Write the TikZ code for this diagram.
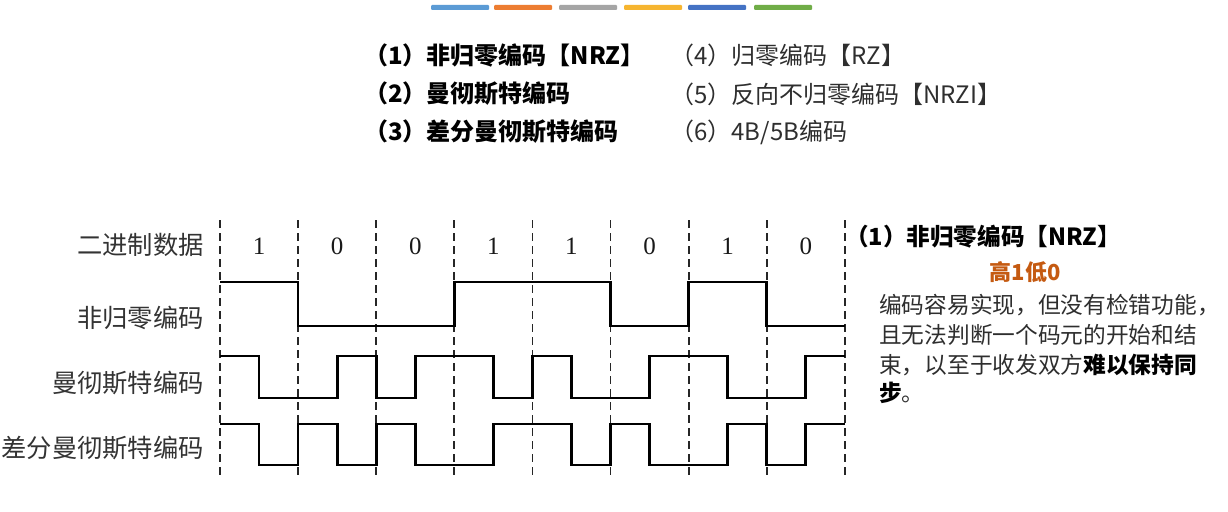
\documentclass[tikz,border=0pt]{standalone}
\usepackage{fontspec}
\setmainfont{Liberation Serif}
\newfontfamily\cjk{Noto Sans CJK SC}
\newfontfamily\serifdig{Liberation Serif}
\definecolor{barA}{HTML}{5B9BD5}
\definecolor{barB}{HTML}{ED7D31}
\definecolor{barC}{HTML}{A5A5A5}
\definecolor{barD}{HTML}{F6B530}
\definecolor{barE}{HTML}{4472C4}
\definecolor{barF}{HTML}{70AD47}
\definecolor{txtgray}{HTML}{2E2E2E}
\definecolor{lblgray}{HTML}{333333}
\definecolor{hiorange}{HTML}{C55A11}
\begin{document}
\begin{tikzpicture}[x=1pt,y=-1pt,
  legb/.style={inner sep=0pt, anchor=west, text=black, font={\cjk\bfseries\fontsize{24}{29}\selectfont}},
  legr/.style={inner sep=0pt, anchor=west, text=txtgray, font={\cjk\fontsize{24}{29}\selectfont}},
  rowlbl/.style={inner sep=0pt, anchor=east, text=lblgray, font={\cjk\fontsize{25.3}{30}\selectfont}},
  digit/.style={inner sep=0pt, text=black!90, font={\serifdig\fontsize{25}{30}\selectfont}},
  para/.style={inner sep=0pt, anchor=west, text=txtgray, font={\cjk\fontsize{22.7}{28}\selectfont}},
  gridline/.style={dash pattern=on 8pt off 5pt, line width=1.8pt, black!85},
  wave/.style={line width=2.7pt, line join=miter, black}]
\useasboundingbox (0,0) rectangle (1228,511);
\fill[white] (0,0) rectangle (1228,511);
% top colour bars
\foreach \x/\c in {431/barA, 494/barB, 559/barC, 624/barD, 688/barE, 754/barF}
  \fill[\c, rounded corners=1pt] (\x,5) rectangle ++(58,5);
% legend
\node[legb] (l1) at (364,55) {（1）非归零编码【NRZ】};
\node[legb] (l2) at (364,94) {（2）曼彻斯特编码};
\node[legb] (l3) at (364,132) {（3）差分曼彻斯特编码};
\node[legr] (l4) at (670,55) {（4）归零编码【RZ】};
\node[legr] (l5) at (670,94) {（5）反向不归零编码【NRZI】};
\node[legr] (l6) at (670,132) {（6）4B/5B编码};
% row labels
\node[rowlbl] (r0) at (204,245) {二进制数据};
\node[rowlbl] (r1) at (204,318) {非归零编码};
\node[rowlbl] (r2) at (204,383) {曼彻斯特编码};
\node[rowlbl] (r3) at (204,448) {差分曼彻斯特编码};
% dashed grid
\foreach \i in {0,...,8}
  \draw[gridline] ({220+78.1*\i},220) -- ({220+78.1*\i},478);
% bits
\foreach \b [count=\i from 0] in {1,0,0,1,1,0,1,0}
  \node[digit] (d\i) at ({259.05+78.1*\i},246) {\b};
% NRZ
\draw[wave] (220,282) -- (298.1,282) -- (298.1,326) -- (454.3,326) -- (454.3,282)
  -- (610.5,282) -- (610.5,326) -- (688.6,326) -- (688.6,282) -- (766.7,282)
  -- (766.7,326) -- (844.8,326);
% Manchester
\draw[wave] (220,356) -- (259.05,356) -- (259.05,398) -- (337.15,398) -- (337.15,356)
  -- (376.2,356) -- (376.2,398) -- (415.25,398) -- (415.25,356) -- (493.35,356)
  -- (493.35,398) -- (532.4,398) -- (532.4,356) -- (571.45,356) -- (571.45,398)
  -- (649.55,398) -- (649.55,356) -- (727.65,356) -- (727.65,398) -- (805.75,398)
  -- (805.75,356) -- (844.8,356);
% Differential Manchester
\draw[wave] (220,424) -- (259.05,424) -- (259.05,465) -- (298.1,465) -- (298.1,424)
  -- (337.15,424) -- (337.15,465) -- (376.2,465) -- (376.2,424) -- (415.25,424)
  -- (415.25,465) -- (493.35,465) -- (493.35,424) -- (571.45,424) -- (571.45,465)
  -- (610.5,465) -- (610.5,424) -- (649.55,424) -- (649.55,465) -- (727.65,465)
  -- (727.65,424) -- (766.7,424) -- (766.7,465) -- (805.75,465) -- (805.75,424)
  -- (844.8,424);
% right explanation
\node[inner sep=0pt, anchor=west, text=black, font={\cjk\bfseries\fontsize{23.6}{28}\selectfont}] (t1) at (845,237) {（1）非归零编码【NRZ】};
\node[inner sep=0pt, text=hiorange, font={\cjk\bfseries\fontsize{22}{26}\selectfont}] (t2) at (1025,272) {高1低0};
\node[para] (p1) at (879,305) {编码容易实现，但没有检错功能，};
\node[para] (p2) at (879,335) {且无法判断一个码元的开始和结};
\node[para] (p3) at (879,365) {束，以至于收发双方{\bfseries\color{black}难以保持同}};
\node[para] (p4) at (879,393) {{\bfseries\color{black}步}。};
\end{tikzpicture}
\end{document}
